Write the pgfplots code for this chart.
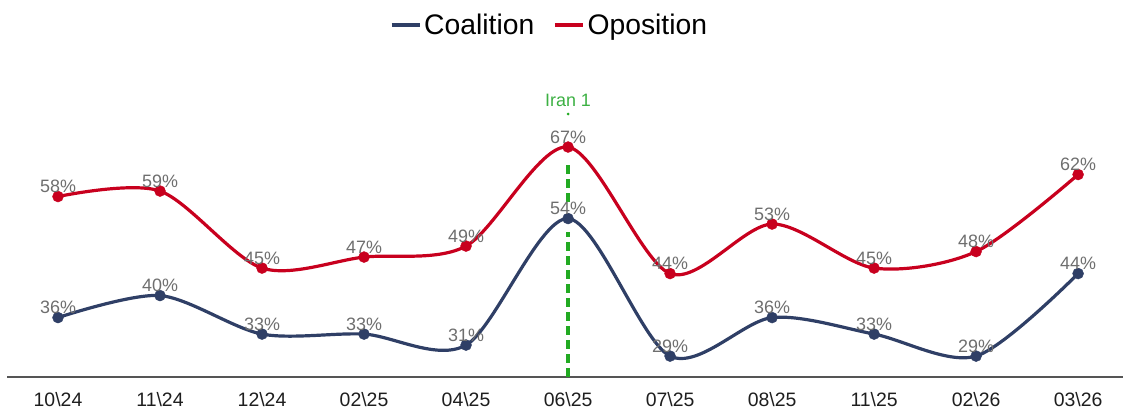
\documentclass[border=0pt]{standalone}
\usepackage{pgfplots}
\pgfplotsset{compat=1.18}
\usepackage{fontspec}
\setmainfont{Liberation Sans}
\definecolor{coal}{HTML}{2F3F66}
\definecolor{opp}{HTML}{C8001E}
\definecolor{lbl}{HTML}{6E6E6E}
\definecolor{iran}{HTML}{22AA22}
\definecolor{irantext}{HTML}{3CB043}
\definecolor{axl}{HTML}{555555}
\definecolor{tick}{HTML}{1E1E1E}
\begin{document}
\begin{tikzpicture}
\begin{axis}[
  at={(7bp,34bp)}, anchor=south west,
  scale only axis, width=1116bp, height=277bp,
  xmin=-0.5, xmax=10.44, ymin=25.2, ymax=75.55,
  axis x line*=bottom, axis y line=none,
  x axis line style={draw=axl, line width=1.5bp},
  xtick={0,...,10},
  xticklabels={10\textbackslash 24,11\textbackslash 24,12\textbackslash 24,02\textbackslash 25,04\textbackslash 25,06\textbackslash 25,07\textbackslash 25,08\textbackslash 25,11\textbackslash 25,02\textbackslash 26,03\textbackslash 26},
  xticklabel style={font=\fontsize{19.5}{22}\selectfont, text=tick, anchor=base, yshift=-30bp},
  major tick length=0pt,
  ytick=\empty,
  clip=false,
  legend style={at={(0.4866,1.271)}, anchor=center, draw=none, fill=none, legend columns=-1,
    font=\fontsize{28.4}{32}\selectfont, /tikz/every even column/.append style={column sep=16bp},
    nodes={inner xsep=3bp}},
  legend image code/.code={\draw[#1, line width=3.2bp] (0bp,0bp) -- (28bp,0bp);},
  /pgf/number format/assume math mode=true,
  nodes near coords={\pgfmathprintnumber{\pgfplotspointmeta}\%},
  every node near coord/.append style={font=\fontsize{18}{20}\selectfont, text=lbl, anchor=base, yshift=4bp, inner sep=0pt},
]
\draw[iran, line width=3.4bp, dash pattern=on 9bp off 5bp] (axis cs:5,25.2) -- (axis cs:5,51.5);
\draw[iran, line width=3.4bp, dash pattern=on 9bp off 5bp] (axis cs:5,57.0) -- (axis cs:5,63.7);
\fill[iran] (axis cs:5,73.0) circle[radius=1.5bp];
\node[irantext, font=\fontsize{18}{20}\selectfont, anchor=base, inner sep=0pt] at (axis cs:5,74.4) {Iran 1};
\addplot[coal, line width=3.2bp, smooth, mark=*, mark size=5.5bp, mark options={solid, fill=coal, draw=coal, line width=0.4bp}]
  coordinates {(0,36) (1,40) (2,33) (3,33) (4,31) (5,54) (6,29) (7,36) (8,33) (9,29) (10,44)};
\addlegendentry{Coalition}
\addplot[opp, line width=3.2bp, smooth, mark=*, mark size=5.5bp, mark options={solid, fill=opp, draw=opp, line width=0.4bp}]
  coordinates {(0,58) (1,59) (2,45) (3,47) (4,49) (5,67) (6,44) (7,53) (8,45) (9,48) (10,62)};
\addlegendentry{Oposition}
\end{axis}
\pgfresetboundingbox
\path[use as bounding box] (0,0) rectangle (1123bp,411bp);
\end{tikzpicture}
\end{document}
